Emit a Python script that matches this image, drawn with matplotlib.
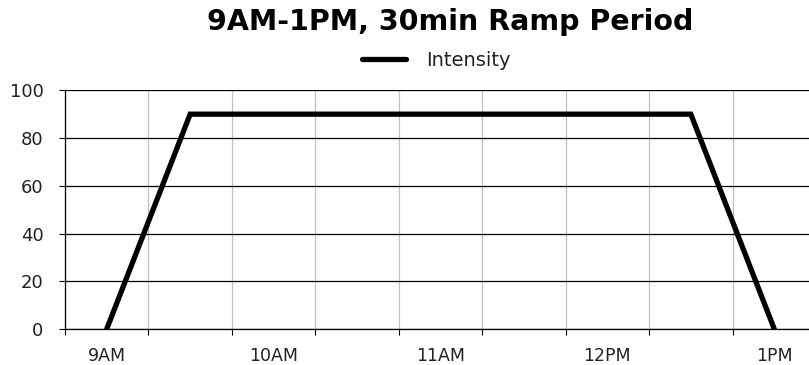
import matplotlib
matplotlib.use("Agg")
import matplotlib.pyplot as plt
import numpy as np

times = ["9AM", "9:30AM", "10AM", "10:30AM", "11AM", "11:30AM", "12PM", "12:30PM", "1PM"]
intensity = [0, 90, 90, 90, 90, 90, 90, 90, 0]
tick_labels = ["9AM", "", "10AM", "", "11AM", "", "12PM", "", "1PM"]
y_ticks = [0, 20, 40, 60, 80, 100]
title = "9AM-1PM, 30min Ramp Period"
series_name = "Intensity"

plt.rcParams['font.family'] = ['DejaVu Sans']

W, H = 809, 365
fig = plt.figure(figsize=(W / 100, H / 100), dpi=100)
ax = fig.add_axes([65 / W, 36 / H, 751 / W, (329 - 90.3) / H])

x = np.arange(len(times))
line, = ax.plot(x, intensity, color="black", lw=3.8, solid_joinstyle="miter",
                solid_capstyle="round", label=series_name, zorder=5)

ax.set_xlim(-0.5, len(times) - 0.5)
ax.set_ylim(0, 100)
ax.set_yticks(y_ticks)
ax.set_yticklabels([str(v) for v in y_ticks], fontsize=13, color="#222222")

# category boundaries as major ticks, labels at centers as minor ticks
ax.set_xticks(np.arange(-0.5, len(times) + 0.5, 1.0))
ax.set_xticklabels([])
ax.set_xticks(x, minor=True)
ax.set_xticklabels(tick_labels, minor=True, fontsize=12.5, color="#222222")
ax.tick_params(axis="x", which="major", length=4, width=0.8, color="black")
ax.tick_params(axis="x", which="minor", length=0, pad=13)
ax.tick_params(axis="y", length=4.5, width=0.8, pad=11, color="black")

ax.grid(axis="y", color="black", lw=0.9)
ax.grid(axis="x", which="major", color="#c0c0c0", lw=0.9)
ax.set_axisbelow(True)
for s in ["top", "right"]:
    ax.spines[s].set_visible(False)
for s in ["left", "bottom"]:
    ax.spines[s].set_color("black")
    ax.spines[s].set_linewidth(0.9)

fig.text(450 / W, 1 - 22 / H, title, ha="center", va="center", fontsize=20.5,
         fontweight="bold")
leg = fig.legend(handles=[line], loc="center", bbox_to_anchor=(436 / W, 1 - 60 / H),
                 frameon=False, fontsize=14, handlelength=2.3, handletextpad=1.0)
for t in leg.get_texts():
    t.set_color("#222222")

fig.savefig("out.png", dpi=100)
